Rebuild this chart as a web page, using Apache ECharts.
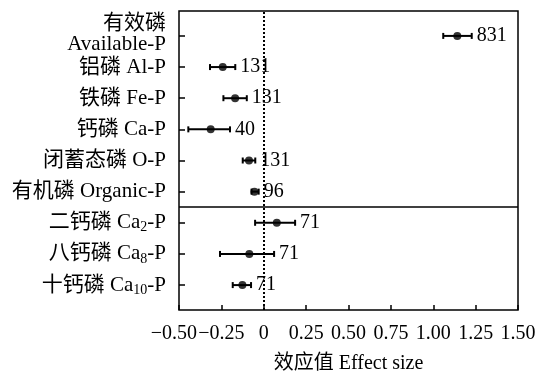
<!DOCTYPE html>
<html>
<head>
<meta charset="utf-8">
<script src="https://cdn.jsdelivr.net/npm/echarts@6/dist/echarts.min.js"></script>
<style>
  html, body { margin: 0; padding: 0; background: #fff; }
  #chart { width: 539px; height: 379px; }
</style>
</head>
<body>
<div id="chart"></div>
<script>
// 分类（从上到下），"_数字" 表示下标
const categories = ['有效磷\nAvailable-P', '铝磷 Al-P', '铁磷 Fe-P', '钙磷 Ca-P', '闭蓄态磷 O-P',
  '有机磷 Organic-P', '二钙磷 Ca_2-P', '八钙磷 Ca_8-P', '十钙磷 Ca_10-P'];
// 纵向位置，上面是 9
const yPositions = [9, 8, 7, 6, 5, 4, 3, 2, 1];
const effectSizes = [1.142, -0.242, -0.169, -0.313, -0.087, -0.055, 0.077, -0.085, -0.126];
const ciLower = [1.059, -0.317, -0.238, -0.445, -0.124, -0.072, -0.051, -0.258, -0.183];
const ciUpper = [1.227, -0.168, -0.100, -0.199, -0.050, -0.030, 0.185, 0.061, -0.075];
const sampleSizes = [831, 131, 131, 40, 131, 96, 71, 71, 71];
const dividerY = 3.5; // 分隔线位置

const FONT = '"Liberation Serif", "Times New Roman", "Noto Sans CJK SC", serif';

// 标签顺序打乱一下，首尾两个不相邻，免得 echarts 因为重叠把顶上的两行标签藏掉
const labelOrder = [9, 1, 8, 6, 4, 2, 7, 5, 3];

// 把分类名转成富文本（处理换行和下标）
const toRich = (name) => {
  const lines = name.split('\n');
  return lines.map((line, li) => {
    // 两行标签的第二行行高大一些、文字靠上，让整体往上一点
    const tag = lines.length > 1 && li === lines.length - 1 ? 'tb' : 't';
    const parts = line.split(/_(\d+)/);
    return parts.map((p, i) => i % 2 === 1 ? '{sub|' + p + '}' : (p ? '{' + tag + '|' + p + '}' : '')).join('');
  }).join('\n');
};

const chart = echarts.init(document.getElementById('chart'));

const option = {
  animation: false,
  grid: {
    left: 179, right: 21, top: 11, bottom: 66,
    show: true, borderColor: '#000', borderWidth: 1.5
  },
  xAxis: {
    type: 'value',
    min: -0.5, max: 1.5, interval: 0.25,
    name: '效应值 Effect size',
    nameLocation: 'middle',
    nameGap: 44,
    nameTextStyle: { color: '#000', fontSize: 20, fontFamily: FONT },
    axisLine: { show: false, onZero: false },
    axisTick: { show: true, inside: true, length: 5, lineStyle: { color: '#000', width: 1.5 } },
    splitLine: { show: false },
    axisLabel: {
      color: '#000', fontSize: 20, fontFamily: FONT, margin: 14,
      showMinLabel: true, showMaxLabel: true,
      formatter: v => {
        if (v === 0) return '0';
        const s = v.toFixed(2).replace('-', '\u2212');
        // 最左边的标签往左挪一点，避免和 −0.25 重叠
        return v === -0.5 ? '{m|' + s + '}' : s;
      },
      rich: {
        m: { color: '#000', fontSize: 20, fontFamily: FONT, width: 36, align: 'right' }
      }
    }
  },
  yAxis: {
    type: 'value',
    min: 0.2, max: 9.8,
    axisLine: { show: false, onZero: false },
    splitLine: { show: false },
    axisTick: { show: true, inside: true, length: 6, customValues: labelOrder, lineStyle: { color: '#000', width: 1.5 } },
    axisLabel: {
      customValues: labelOrder,
      margin: 13,
      formatter: v => {
        const idx = yPositions.indexOf(Math.round(v));
        return idx < 0 ? '' : toRich(categories[idx]);
      },
      rich: {
        t: { color: '#000', fontSize: 21, fontFamily: FONT, lineHeight: 21 },
        tb: { color: '#000', fontSize: 21, fontFamily: FONT, lineHeight: 25, verticalAlign: 'top' },
        sub: { color: '#000', fontSize: 14, fontFamily: FONT, padding: [10, 0, 0, 0] }
      }
    }
  },
  series: [
    {
      // 误差线 + 样本数
      type: 'custom',
      data: categories.map((c, i) => [ciLower[i], ciUpper[i], yPositions[i], sampleSizes[i]]),
      encode: { x: [0, 1], y: 2 },
      renderItem: (params, api) => {
        const lo = api.coord([api.value(0), api.value(2)]);
        const hi = api.coord([api.value(1), api.value(2)]);
        const cap = 3;
        const ls = { stroke: '#000', lineWidth: 2 };
        return {
          type: 'group',
          children: [
            { type: 'line', shape: { x1: lo[0], y1: lo[1], x2: hi[0], y2: hi[1] }, style: ls },
            { type: 'line', shape: { x1: lo[0], y1: lo[1] - cap, x2: lo[0], y2: lo[1] + cap }, style: ls },
            { type: 'line', shape: { x1: hi[0], y1: hi[1] - cap, x2: hi[0], y2: hi[1] + cap }, style: ls },
            {
              type: 'text', x: hi[0] + 5, y: hi[1],
              style: {
                text: String(api.value(3)), fill: '#000',
                font: '20px ' + FONT, align: 'left', verticalAlign: 'middle'
              }
            }
          ]
        };
      },
      z: 2
    },
    {
      type: 'scatter',
      data: effectSizes.map((v, i) => [v, yPositions[i]]),
      symbol: 'circle',
      symbolSize: 8,
      itemStyle: { color: '#000' },
      z: 3,
      markLine: {
        silent: true,
        symbol: 'none',
        label: { show: false },
        data: [
          { xAxis: 0, lineStyle: { color: '#000', type: [2, 2], width: 2 } },
          [
            { coord: [-0.5, dividerY], lineStyle: { color: '#000', type: 'solid', width: 1.5 } },
            { coord: [1.5, dividerY] }
          ]
        ]
      }
    }
  ]
};

chart.setOption(option);
</script>
</body>
</html>
